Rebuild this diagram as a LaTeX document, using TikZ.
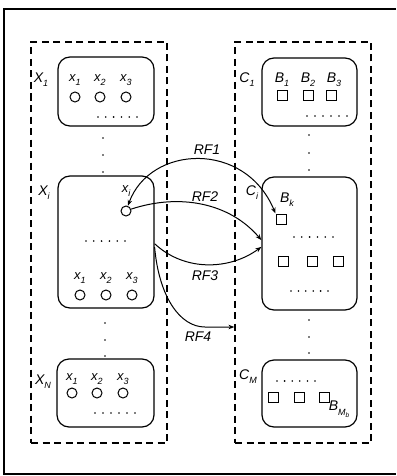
\documentclass[tikz,border=0pt]{standalone}
\usepackage{fontspec}
\setmainfont{Liberation Sans}
\usetikzlibrary{arrows.meta}
\newcommand\lsub[2]{#1\raisebox{-0.3em}{\fontsize{9}{9}\selectfont #2}}
\begin{document}
\begin{tikzpicture}[x=1pt,y=-1pt,
  dbox/.style={draw, line width=1.2pt, dash pattern=on 7pt off 4.5pt, inner sep=0pt},
  rbox/.style={draw, line width=1.2pt, rounded corners=12pt, inner sep=0pt},
  xc/.style={draw, circle, line width=1pt, minimum size=10pt, inner sep=0pt},
  bs/.style={draw, rectangle, line width=1pt, minimum size=10pt, inner sep=0pt},
  lab/.style={font=\fontsize{14}{14}\selectfont\itshape, inner sep=0pt},
  slab/.style={font=\fontsize{13}{13}\selectfont\itshape, inner sep=0pt},
  arr/.style={line width=1pt, -{Stealth[length=6pt,width=4.5pt]}},
  dotc/.style={fill, circle, minimum size=1.8pt, inner sep=0pt},
]
\useasboundingbox (0,0) rectangle (396,476);
% outer frame
\draw[line width=1.4pt] (396,9) -- (4,9) -- (4,474) -- (396,474);
% dashed group boxes
\node[dbox, minimum width=136pt, minimum height=401pt] (ldash) at (99,242.5) {};
\node[dbox, minimum width=136pt, minimum height=401pt] (rdash) at (303,242.5) {};
% left rounded boxes
\node[rbox, minimum width=96pt, minimum height=69pt] (X1box) at (106,91.5) {};
\node[rbox, minimum width=96pt, minimum height=132pt] (Xibox) at (106,242) {};
\node[rbox, minimum width=97pt, minimum height=68pt] (XNbox) at (105.5,393) {};
% right rounded boxes
\node[rbox, minimum width=95pt, minimum height=68pt] (C1box) at (309.5,92) {};
\node[rbox, minimum width=95pt, minimum height=133pt] (Cibox) at (309.5,243.5) {};
\node[rbox, minimum width=95pt, minimum height=67pt] (CMbox) at (309.5,393.5) {};
% group labels
\node[lab] (lX1) at (41,80) {\lsub{X}{1}};
\node[lab] (lXi) at (44,193) {\lsub{X}{i}};
\node[lab] (lXN) at (43,382) {\lsub{X}{N}};
\node[lab] (lC1) at (247,80) {\lsub{C}{1}};
\node[lab] (lCi) at (252,193) {\lsub{C}{i}};
\node[lab] (lCM) at (248,377) {\lsub{C}{M}};
% X1 box content
\node[xc] (a1) at (75,97) {};
\node[xc] (a2) at (100,97) {};
\node[xc] (a3) at (126,97) {};
\node[slab] (la1) at (75,80) {\lsub{x}{1}};
\node[slab] (la2) at (100,80) {\lsub{x}{2}};
\node[slab] (la3) at (126,80) {\lsub{x}{3}};
\foreach \i in {0,...,5} \node[dotc] at (98+7.8*\i,117) {};
% Xi box content
\node[xc] (xi) at (126,211) {};
\node[slab] (lxi) at (126,191) {\lsub{x}{i}};
\foreach \i in {0,...,5} \node[dotc] at (86+7.8*\i,241) {};
\node[xc] (b1) at (80,295) {};
\node[xc] (b2) at (106,295) {};
\node[xc] (b3) at (132,295) {};
\node[slab] (lb1) at (80,278) {\lsub{x}{1}};
\node[slab] (lb2) at (106,278) {\lsub{x}{2}};
\node[slab] (lb3) at (132,278) {\lsub{x}{3}};
% XN box content
\node[xc] (c1) at (72,393) {};
\node[xc] (c2) at (97,393) {};
\node[xc] (c3) at (123,393) {};
\node[slab] (lc1) at (72,379) {\lsub{x}{1}};
\node[slab] (lc2) at (97,379) {\lsub{x}{2}};
\node[slab] (lc3) at (123,379) {\lsub{x}{3}};
\foreach \i in {0,...,5} \node[dotc] at (95+8*\i,413) {};
% vertical dots left
\foreach \y in {138,155,172} \node[dotc] at (103,\y) {};
\foreach \y in {323,340,356} \node[dotc] at (105,\y) {};
% C1 box content
\node[bs] (s1) at (282,96) {};
\node[bs] (s2) at (308,96) {};
\node[bs] (s3) at (331,96) {};
\node[lab] (ls1) at (282,80) {\lsub{B}{1}};
\node[lab] (ls2) at (308,80) {\lsub{B}{2}};
\node[lab] (ls3) at (334,80) {\lsub{B}{3}};
\foreach \i in {0,...,5} \node[dotc] at (307+8*\i,116) {};
% Ci box content
\node[bs] (bk) at (281,219) {};
\node[lab] (lbk) at (287,200) {\lsub{B}{k}};
\foreach \i in {0,...,5} \node[dotc] at (294+7.8*\i,237) {};
\node[bs] (t1) at (283,261) {};
\node[bs] (t2) at (312,261) {};
\node[bs] (t3) at (338,261) {};
\foreach \i in {0,...,5} \node[dotc] at (291+7.4*\i,291) {};
% CM box content
\foreach \i in {0,...,5} \node[dotc] at (277+7.6*\i,381) {};
\node[bs] (u1) at (273,397) {};
\node[bs] (u2) at (299,397) {};
\node[bs] (u3) at (324,397) {};
\node[lab] (lbm) at (339,409) {B\raisebox{-0.35em}{\fontsize{9}{9}\selectfont M\raisebox{-0.25em}{\fontsize{6.5}{6.5}\selectfont b}}};
% vertical dots right
\foreach \y in {135,153,170} \node[dotc] at (309,\y) {};
\foreach \y in {320,337,353} \node[dotc] at (309,\y) {};
% connectors
\draw[arr, {Stealth[length=6pt,width=4.5pt]}-{Stealth[length=6pt,width=4.5pt]}] (xi.70) .. controls (150,145) and (245,140) .. (bk.north west);
\draw[arr] (xi.20) .. controls (180,193) and (230,203) .. (Cibox.176);
\draw[arr] (Xibox.-2) .. controls (185,272) and (230,270) .. (Cibox.184);
\coordinate (rf4mid) at (205,327);
\coordinate (rf4end) at (rdash.west |- rf4mid);
\draw[arr] (Xibox.-6) .. controls (159,297) and (180,327) .. (rf4mid) -- (rf4end);
% RF labels
\node[lab] (rf1) at (207,150) {RF1};
\node[lab] (rf2) at (205,197) {RF2};
\node[lab] (rf3) at (205,276) {RF3};
\node[lab] (rf4) at (198,337) {RF4};
\end{tikzpicture}
\end{document}
